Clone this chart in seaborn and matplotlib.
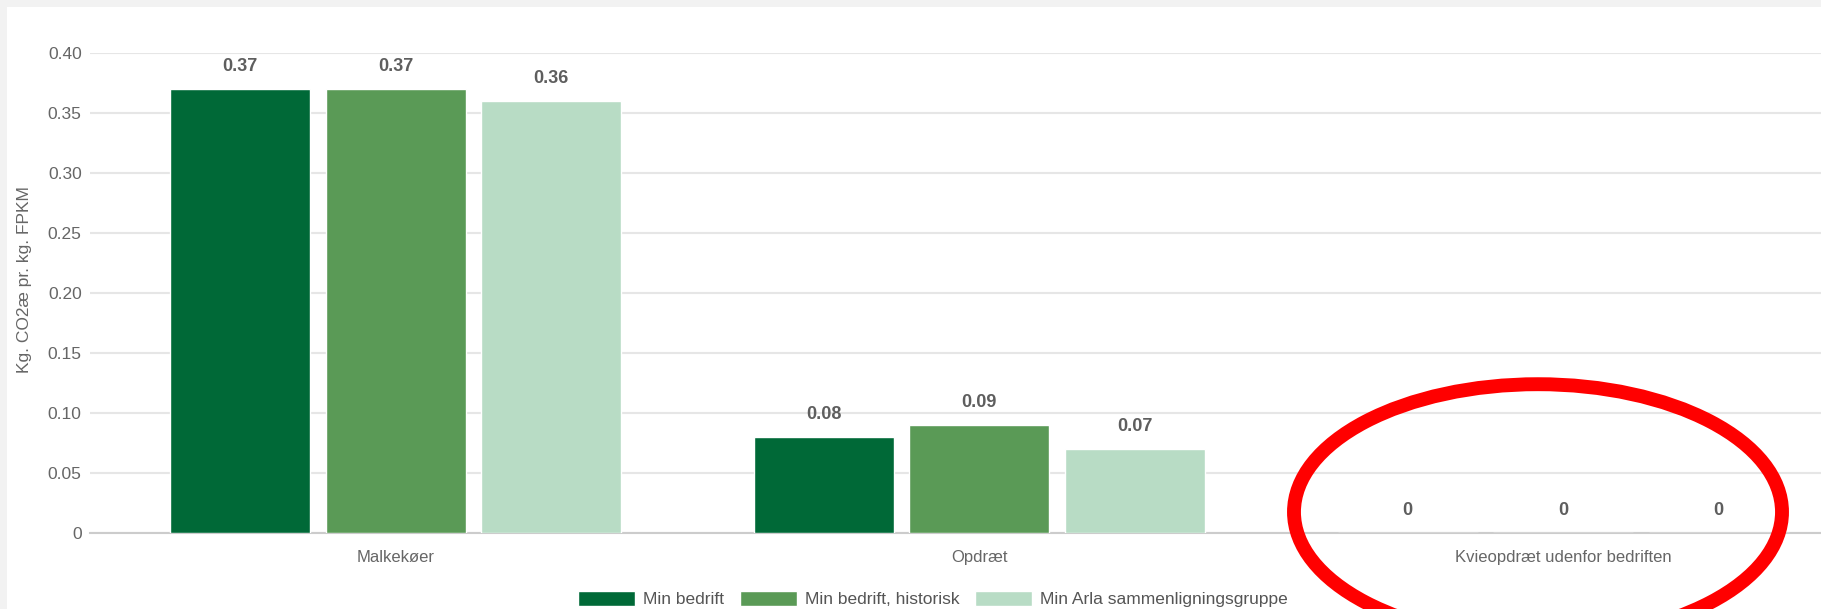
import matplotlib
matplotlib.use("Agg")
import matplotlib.pyplot as plt
from matplotlib.patches import Ellipse, Rectangle
import pandas as pd
import seaborn as sns

# Data
categories = ["Malkekøer", "Opdræt", "Kvieopdræt udenfor bedriften"]
series_names = ["Min bedrift", "Min bedrift, historisk", "Min Arla sammenligningsgruppe"]
min_bedrift = [0.37, 0.08, 0.0]
min_bedrift_historisk = [0.37, 0.09, 0.0]
min_arla_gruppe = [0.36, 0.07, 0.0]
y_ticks = [0.0, 0.05, 0.10, 0.15, 0.20, 0.25, 0.30, 0.35, 0.40]
y_tick_labels = ["0", "0.05", "0.10", "0.15", "0.20", "0.25", "0.30", "0.35", "0.40"]
y_label = "Kg. CO2æ pr. kg. FPKM"

palette = ["#006937", "#5a9a56", "#b8dcc5"]

sns.set_theme(style="white")
plt.rcParams["font.family"] = ["Liberation Sans", "DejaVu Sans"]

rows = []
for name, values in zip(series_names, [min_bedrift, min_bedrift_historisk, min_arla_gruppe]):
    for cat, v in zip(categories, values):
        rows.append({"Kategori": cat, "Serie": name, "Værdi": v})
df = pd.DataFrame(rows)

W, H = 1821, 609
fig = plt.figure(figsize=(W / 100, H / 100), dpi=100, facecolor="#f2f2f2")
card = Rectangle((7 / W, 0), 1, (H - 7) / H, transform=fig.transFigure,
                 facecolor="white", edgecolor="none", zorder=-10)
fig.add_artist(card)
ax = fig.add_axes([90 / W, 76 / H, (W - 90) / W, 480 / H])
ax.set_zorder(1)
ax.set_facecolor("none")

sns.barplot(data=df, x="Kategori", y="Værdi", hue="Serie", order=categories,
            hue_order=series_names, palette=palette, width=0.799, gap=0.1,
            saturation=1, errorbar=None, ax=ax, zorder=3)

# value labels above each bar
for container in ax.containers:
    for bar in container:
        v = bar.get_height()
        ax.annotate(f"{v:g}", (bar.get_x() + bar.get_width() / 2, v),
                    xytext=(0, 16.5), textcoords="offset points",
                    ha="center", va="center", fontsize=13, fontweight="bold",
                    color="#5e5e5e", zorder=5)

ax.set_xlim(-0.5235, 2.4418)
ax.set_ylim(0, 0.40)
ax.set_yticks(y_ticks)
ax.set_yticklabels(y_tick_labels)
ax.tick_params(axis="y", length=0, pad=6, labelsize=12.5, labelcolor="#666666")
ax.tick_params(axis="x", length=0, pad=12.5, labelsize=12, labelcolor="#666666")
ax.set_xlabel("")
ax.set_ylabel("")
fig.text(25 / W, (H - 280) / H, y_label, rotation=90, ha="center", va="center",
         fontsize=12.5, color="#666666")

ax.grid(axis="y", color="#e6e6e6", linewidth=1.5, zorder=0)
for side in ["top", "right", "left"]:
    ax.spines[side].set_visible(False)
ax.spines["bottom"].set_color("#cccccc")
ax.spines["bottom"].set_linewidth(1.5)

# legend at bottom
handles, labels = ax.get_legend_handles_labels()
ax.legend_.remove()
fig.legend(handles, labels, loc="center", bbox_to_anchor=(933 / W, 10 / H), ncol=3,
           frameon=False, fontsize=12.5, handlelength=3.3, handleheight=1.0,
           handletextpad=0.45, columnspacing=0.9, labelcolor="#555555",
           borderpad=0)

# red highlight ring around the last category
ax.add_patch(Ellipse((1.957, 0.0175), 0.836, 0.213, fill=False, edgecolor="#ff0000",
                     linewidth=10, clip_on=False, zorder=10))

fig.savefig("out.png", dpi=100, facecolor=fig.get_facecolor())
